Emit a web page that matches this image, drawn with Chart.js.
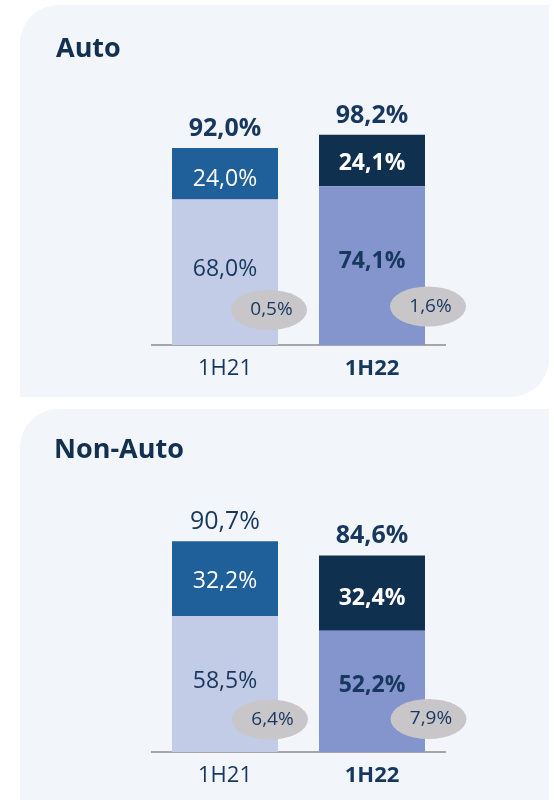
<!DOCTYPE html>
<html><head><meta charset="utf-8">
<script src="https://cdn.jsdelivr.net/npm/chart.js@4/dist/chart.umd.min.js"></script>
<style>
html,body{margin:0;padding:0;background:#fff;width:554px;height:800px;overflow:hidden;}
.panel{position:absolute;background:#f2f5f9;}
#p1{left:20px;top:5px;width:529px;height:392px;border-radius:38px 0 38px 0;}
#p2{left:20px;top:409px;width:529px;height:391px;border-radius:38px 0 0 0;}
canvas{position:absolute;left:0;}
</style></head>
<body>
<div class="panel" id="p1"></div>
<div class="panel" id="p2"></div>
<canvas id="c1" width="554" height="400" style="top:0"></canvas>
<canvas id="c2" width="554" height="400" style="top:400px"></canvas>
<script>
// ---- data ----
const CATEGORIES = ['1H21', '1H22'];
const AUTO_BASE = [68.0, 74.1];
const AUTO_TOP = [24.0, 24.1];
const AUTO_TOTAL = [92.0, 98.2];
const AUTO_OTHER = [0.5, 1.6];
const NON_AUTO_BASE = [58.5, 52.2];
const NON_AUTO_TOP = [32.2, 32.4];
const NON_AUTO_TOTAL = [90.7, 84.6];
const NON_AUTO_OTHER = [6.4, 7.9];

// ---- styles ----
const FONT = "'Open Sans', sans-serif";
const DARK = '#17375e';
const TITLE_COLOR = '#12304f';
const BASE_COLORS = ['#c2cce6', '#8395cc'];
const TOP_COLORS = ['#1f5f9a', '#10304f'];
const BUBBLE_COLOR = '#c9c6c9';

const fmt = v => v.toFixed(1).replace('.', ',') + '%';

function text(ctx, s, x, capCenterY, size, bold, color) {
  ctx.font = (bold ? '700 ' : '400 ') + size + 'px ' + FONT;
  ctx.fillStyle = color;
  ctx.textAlign = 'center';
  ctx.textBaseline = 'alphabetic';
  ctx.fillText(s, x, capCenterY + size * 0.357);
}

const labelPlugin = {
  id: 'segLabels',
  afterDatasetsDraw(chart, args, o) {
    const ctx = chart.ctx;
    const mBase = chart.getDatasetMeta(0), mTop = chart.getDatasetMeta(1);
    ctx.save();
    mBase.data.forEach((b, i) => {
      const t = mTop.data[i];
      // base segment label
      text(ctx, fmt(o.base[i]), b.x, (b.y + b.base) / 2 + o.baseDy[i], 23, i === 1, DARK);
      // top segment label
      text(ctx, fmt(o.top[i]), t.x, (t.y + t.base) / 2 + o.topDy[i], 23, i === 1, '#ffffff');
      // total label above bar
      ctx.font = (o.totalBold[i] ? '700 ' : '400 ') + '25px ' + FONT;
      ctx.fillStyle = DARK; ctx.textAlign = 'center'; ctx.textBaseline = 'alphabetic';
      ctx.fillText(fmt(o.total[i]), t.x, t.y - 12);
      // "other" bubble
      const cx = b.x + o.bubbleDx[i], cy = b.base + o.bubbleDy[i];
      ctx.beginPath();
      ctx.ellipse(cx, cy, 38, 20, 0, 0, Math.PI * 2);
      ctx.fillStyle = BUBBLE_COLOR;
      ctx.fill();
      text(ctx, fmt(o.other[i]), cx + 2.5, cy - 1.5, 19, false, DARK);
    });
    // panel title
    ctx.font = '700 27px ' + FONT;
    ctx.fillStyle = TITLE_COLOR; ctx.textAlign = 'left'; ctx.textBaseline = 'alphabetic';
    ctx.fillText(o.title, o.titleX, o.titleY);
    ctx.restore();
  }
};

function makeChart(id, base, top, total, other, cfg) {
  return new Chart(document.getElementById(id), {
    type: 'bar',
    data: {
      labels: CATEGORIES,
      datasets: [
        { data: base, backgroundColor: BASE_COLORS, borderWidth: 0, barPercentage: 0.721, categoryPercentage: 1 },
        { data: top, backgroundColor: TOP_COLORS, borderWidth: 0, barPercentage: 0.721, categoryPercentage: 1 }
      ]
    },
    options: {
      responsive: false,
      devicePixelRatio: 1,
      animation: false,
      layout: { padding: { left: 151.5, right: 108.5, top: cfg.padTop, bottom: 0 } },
      scales: {
        x: {
          stacked: true,
          grid: { display: false, drawTicks: false },
          border: { display: true, color: '#a6a6a6', width: 2 },
          ticks: {
            padding: cfg.tickPad,
            color: DARK,
            font: c => ({ family: FONT, size: 22, weight: c.index === 1 ? 'bold' : 'normal' })
          },
          afterFit: s => { s.height = cfg.axisH; }
        },
        y: { stacked: true, display: false, min: 0, max: 100 }
      },
      plugins: {
        legend: { display: false },
        tooltip: { enabled: false },
        segLabels: {
          base, top, total, other,
          title: cfg.title, titleX: cfg.titleX, titleY: cfg.titleY,
          totalBold: cfg.totalBold, topDy: cfg.topDy, baseDy: cfg.baseDy,
          bubbleDx: cfg.bubbleDx, bubbleDy: cfg.bubbleDy
        }
      }
    },
    plugins: [labelPlugin]
  });
}

makeChart('c1', AUTO_BASE, AUTO_TOP, AUTO_TOTAL, AUTO_OTHER, {
  padTop: 130.9, axisH: 55, tickPad: 11,
  title: 'Auto', titleX: 56, titleY: 57,
  totalBold: [true, true], topDy: [4.5, 1], baseDy: [-4.5, -6],
  bubbleDx: [44, 56], bubbleDy: [-35, -38.5]
});
makeChart('c2', NON_AUTO_BASE, NON_AUTO_TOP, NON_AUTO_TOTAL, NON_AUTO_OTHER, {
  padTop: 119.7, axisH: 48, tickPad: 11,
  title: 'Non-Auto', titleX: 54, titleY: 58,
  totalBold: [false, true], topDy: [1, 3.5], baseDy: [-4, -7.5],
  bubbleDx: [45, 56.5], bubbleDy: [-32.5, -33]
});
</script>
</body></html>
